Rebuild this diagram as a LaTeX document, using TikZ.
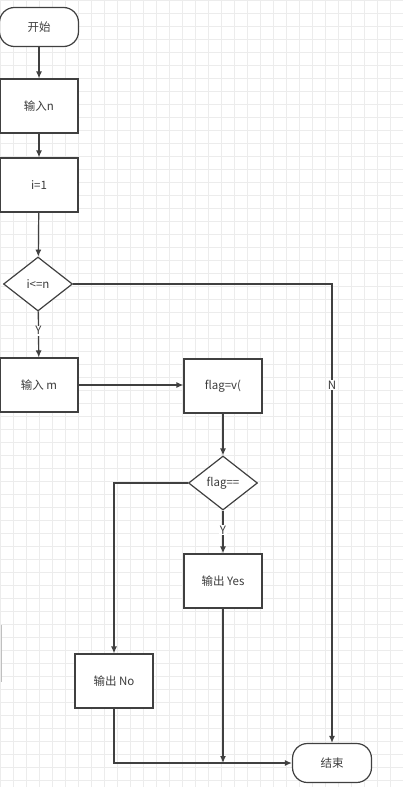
\documentclass[tikz,border=0pt]{standalone}
\usepackage{fontspec}
\setmainfont{Noto Sans CJK SC}
\usepackage{xcolor}
\usetikzlibrary{arrows.meta,shapes.geometric}
\definecolor{fcline}{RGB}{64,64,64}
\definecolor{fctext}{RGB}{60,60,60}
\definecolor{fcgrid}{RGB}{236,236,236}

\begin{document}
\begin{tikzpicture}[x=1pt, y=-1pt, font=\fontsize{11.5}{13}\selectfont,
    box/.style={draw=fcline, line width=1.2pt, fill=white, text=fctext,
        minimum width=78pt, minimum height=54pt, inner sep=1pt},
    term/.style={box, rounded corners=15pt, minimum width=79pt, minimum height=39pt},
    cond/.style={diamond, draw=fcline, line width=1.2pt, fill=white, text=fctext,
        minimum width=69pt, minimum height=54pt, inner sep=1pt},
    flow/.style={draw=fcline, line width=1.2pt, -{Latex[length=7pt,width=6pt]}},
    lbl/.style={fill=white, text=fctext, inner sep=1pt}]
    % Background
    \useasboundingbox (0,0) rectangle (403,787);
    \fill[white] (0,0) rectangle (403,787);
    \foreach \gx in {0,13,...,403} \draw[fcgrid, line width=0.6pt] (\gx,0) -- (\gx,787);
    \foreach \gy in {0,13,...,787} \draw[fcgrid, line width=0.6pt] (0,\gy) -- (403,\gy);
    \draw[black!25, line width=1pt] (1,625) -- (1,682);

    % Main column
    \node[term] (start) at (39,27) {开始};
    \node[box] (inn) at (39,106) {输入n};
    \node[box] (ione) at (39,185) {i=1};
    \node[cond] (loop) at (38,284) {i<=n};
    \node[box] (inm) at (39,385) {输入 m};

    % Check branch
    \node[box] (flag) at (223,386) {flag=v(};
    \node[cond] (chk) at (223,483) {flag==};
    \node[box] (yes) at (223,581) {输出 Yes};
    \node[box] (no) at (114,681) {输出 No};

    % End
    \node[term] (end) at (332,763) {结束};
    \coordinate (join) at (223,763);

    % Connectors
    \draw[flow] (start) -- (inn);
    \draw[flow] (inn) -- (ione);
    \draw[flow] (ione) -- (loop);
    \draw[flow] (loop) -- node[lbl, pos=0.42] {Y} (inm);
    \draw[flow] (inm) -- (flag.west |- inm);
    \draw[flow] (flag) -- (chk);
    \draw[flow] (chk) -- node[lbl, pos=0.45] {Y} (yes);
    \draw[flow] (chk.west) -| (no.north);
    \draw[flow] (yes.south) -- (join);
    \draw[flow] (no.south) |- (end.west);
    \draw[flow] (loop.east) -| node[lbl, pos=0.61] {N} (end.north);
\end{tikzpicture}
\end{document}
